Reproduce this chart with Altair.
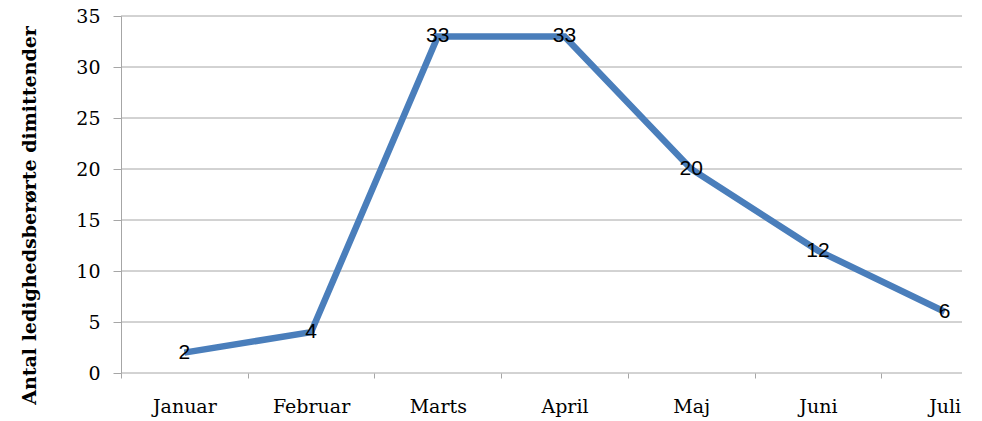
import altair as alt
import pandas as pd

months = ["Januar", "Februar", "Marts", "April", "Maj", "Juni", "Juli"]
values = [2, 4, 33, 33, 20, 12, 6]
y_ticks = [0, 5, 10, 15, 20, 25, 30, 35]

df = pd.DataFrame({"month": months, "value": values})
grid_df = pd.DataFrame({"value": y_ticks})

GRID = "#a6a6a6"
SERIF = "DejaVu Serif"
W, H = 841, 357

x = alt.X(
    "month:N",
    sort=months,
    scale=alt.Scale(type="band", range=[0, 887], paddingInner=0, paddingOuter=0),
    axis=alt.Axis(
        title=None,
        domain=False,
        grid=False,
        tickBand="extent",
        tickSize=5,
        tickColor=GRID,
        labelAngle=0,
        labelFont=SERIF,
        labelFontSize=19,
        labelColor="black",
        labelPadding=19,
        labelBaseline="top",
    ),
)
yscale = alt.Scale(domain=[0, 35], nice=False)
yaxis = alt.Axis(
    title="Antal ledighedsberørte dimittender",
    titleFont=SERIF,
    titleFontSize=19,
    titleFontWeight="bold",
    titleColor="black",
    titleAngle=-90,
    titleX=-92,
    titleY=199,
    titleAlign="center",
    titleBaseline="middle",
    values=y_ticks,
    grid=False,
    domainColor=GRID,
    tickColor=GRID,
    tickSize=8,
    labelFont=SERIF,
    labelFontSize=19,
    labelColor="black",
    labelPadding=13,
)
y = alt.Y("value:Q", scale=yscale, axis=yaxis)

grid = alt.Chart(grid_df).mark_rule(color=GRID, strokeWidth=1).encode(
    y=y,
    x=alt.value(0),
    x2=alt.value(W),
)
line = alt.Chart(df).mark_line(color="#4a7ebb", strokeWidth=6.5).encode(x=x, y=y)
text = alt.Chart(df).mark_text(
    font="Liberation Sans", fontSize=21, color="black", baseline="middle", align="center"
).encode(x=x, y=y, text="value:Q")

chart = (
    alt.layer(grid, line, text)
    .properties(
        width=W,
        height=H,
        autosize=alt.AutoSizeParams(type="none"),
        padding={"left": 113, "top": 8, "right": 10, "bottom": 44},
    )
    .configure_view(stroke=None)
)

chart.save("out.html", embed_options={"renderer": "svg", "actions": False})
